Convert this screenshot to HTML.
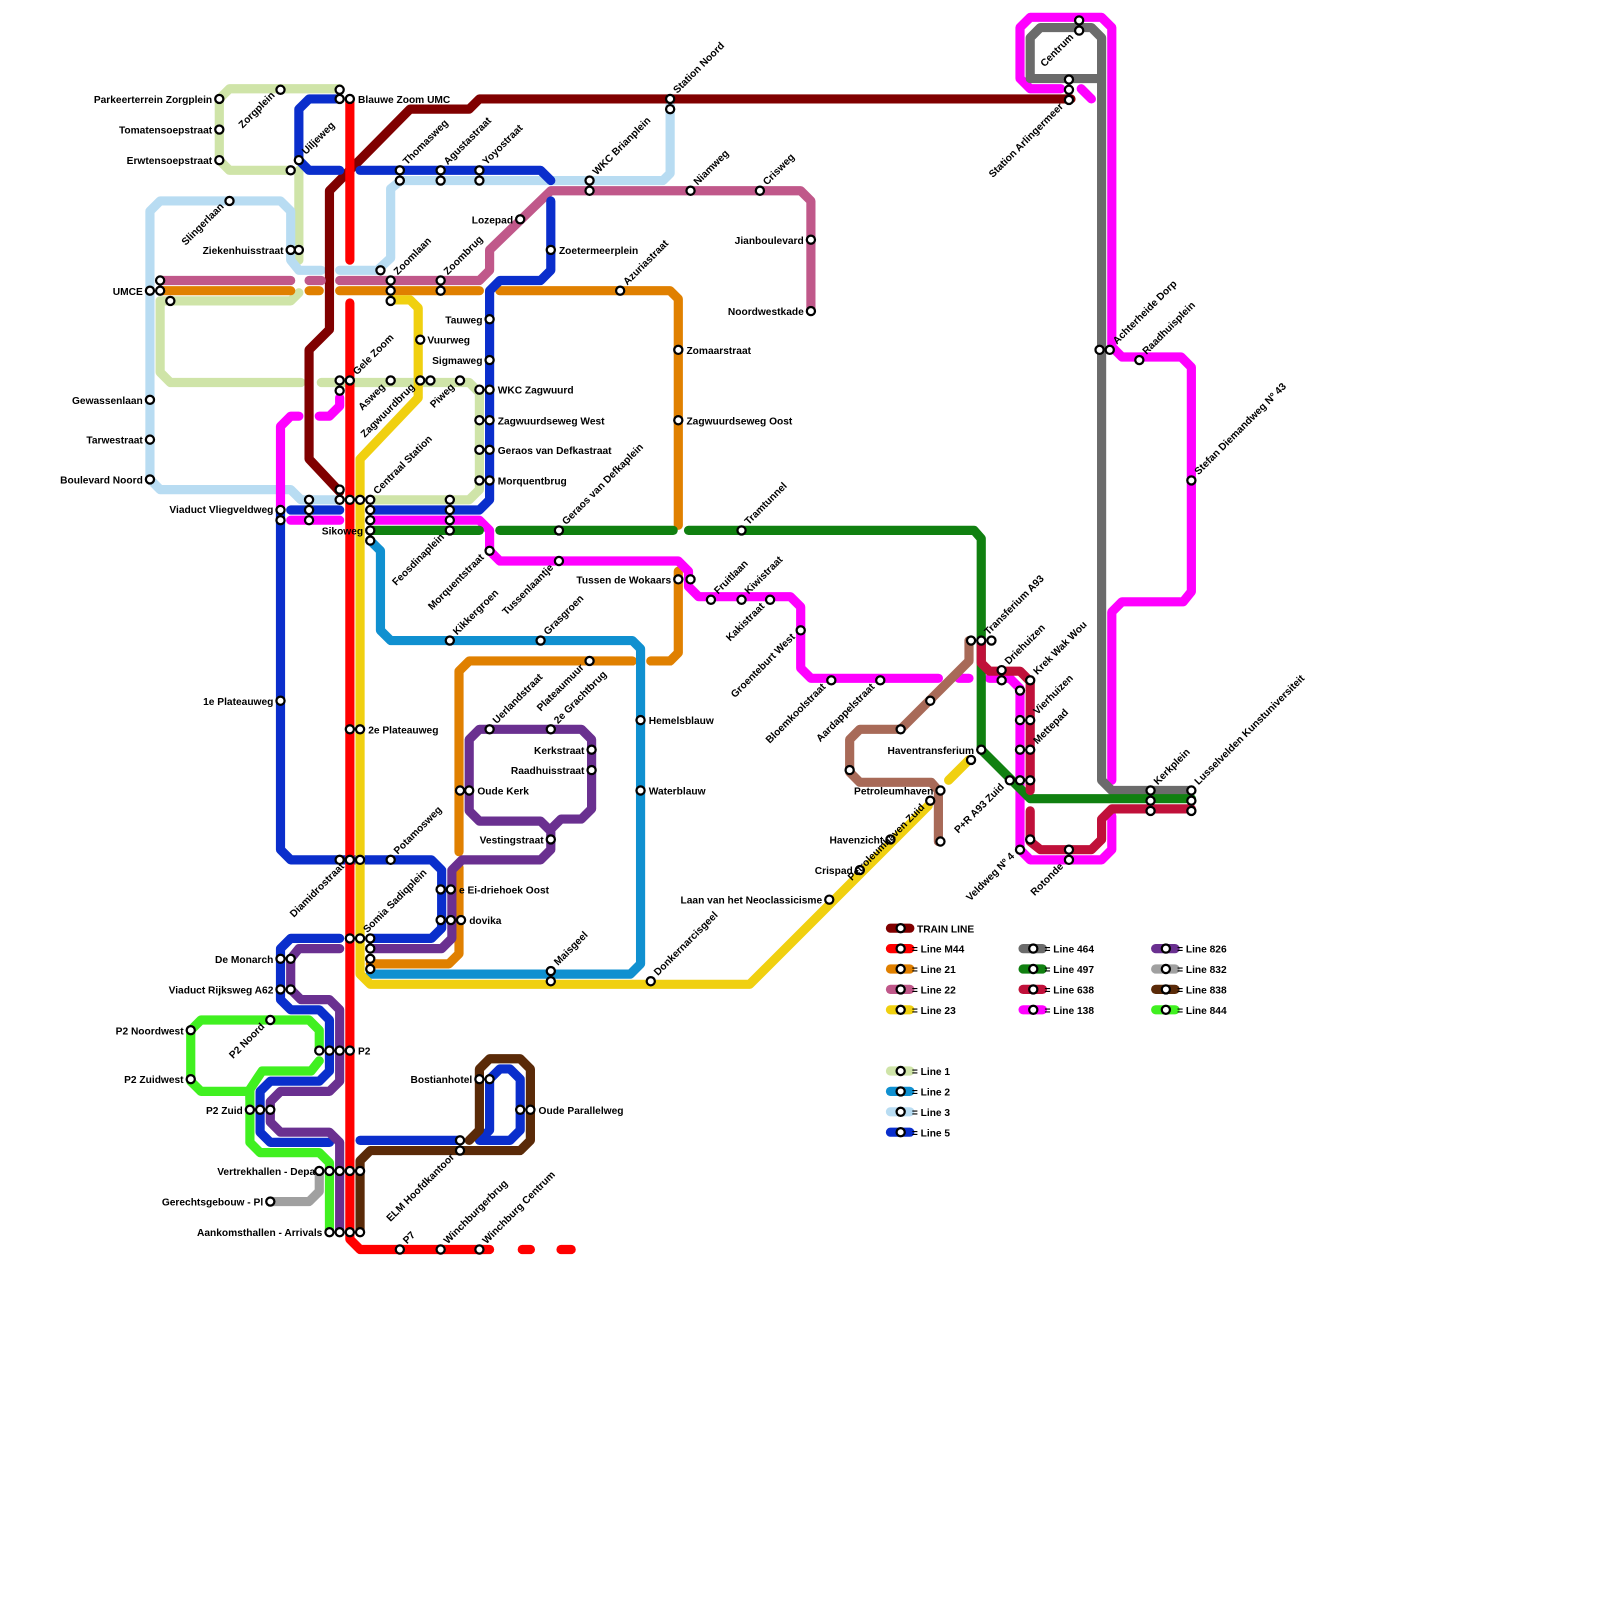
<!DOCTYPE html>
<html><head><meta charset="utf-8"><style>
html,body{margin:0;padding:0;background:#fff;overflow:hidden}
svg{display:block}
text{font-family:"Liberation Sans",sans-serif;font-weight:bold;font-size:10px;fill:#000}
.l{fill:none;stroke-width:9;stroke-linecap:round;stroke-linejoin:round}
circle{fill:#fff;stroke:#000;stroke-width:2.2}
.e{text-anchor:end}
</style></head><body>
<svg width="1600" height="1600" viewBox="0 0 1600 1600" xmlns="http://www.w3.org/2000/svg">
<g transform="scale(1.02)">
<!-- Line 1 light green -->
<g>
<polyline class="l" stroke="#cfe4a8" points="333,87 225,87 215,97 215,157 225,167 285,167"/>
<polyline class="l" stroke="#cfe4a8" points="293,167 293,255"/>
<polyline class="l" stroke="#cfe4a8" points="157,295 285,295 293,287"/>
<polyline class="l" stroke="#cfe4a8" points="157,295 157,365 167,375 295,375"/>
<polyline class="l" stroke="#cfe4a8" points="315,375 460,375 470,385 470,480 460,490 363,490"/>
</g>
<!-- Line 3 light blue -->
<g>
<polyline class="l" stroke="#b8dcf2" points="147,285 147,207 157,197 275,197 285,207 285,255 293,265 315,265"/>
<polyline class="l" stroke="#b8dcf2" points="333,265 370,265 383,253 383,185 393,177 650,177 657,170 657,97"/>
<polyline class="l" stroke="#b8dcf2" points="147,285 147,470 157,480 285,480 295,490 333,490"/>
</g>
<!-- Train line -->
<polyline class="l" stroke="#800000" points="1050,97 470,97 460,107 402,107 323,187 323,323 303,343 303,450 333,482"/>
<!-- Line 22 -->
<polyline class="l" stroke="#c0588a" points="157,275 285,275"/>
<polyline class="l" stroke="#c0588a" points="303,275 315,275"/>
<polyline class="l" stroke="#c0588a" points="333,275 470,275 480,265 480,245 540,187 785,187 795,197 795,305"/>
<!-- Line 21 -->
<polyline class="l" stroke="#e08000" points="157,285 285,285"/>
<polyline class="l" stroke="#e08000" points="303,285 313,285"/>
<polyline class="l" stroke="#e08000" points="333,285 470,285"/>
<polyline class="l" stroke="#e08000" points="490,285 657,285 665,293 665,515"/>
<polyline class="l" stroke="#e08000" points="665,560 665,640 657,648 638,648"/>
<polyline class="l" stroke="#e08000" points="620,648 460,648 450,658 450,835"/>
<polyline class="l" stroke="#e08000" points="450,850 450,935 440,945 363,945"/>
<!-- Line 2 -->
<polyline class="l" stroke="#1090d0" points="363,530 373,540 373,618 383,628 620,628 628,636 628,945 618,955 363,955"/>
<!-- Line 5 -->
<g>
<polyline class="l" stroke="#0a2ecc" points="333,97 303,97 293,107 293,157 303,167 333,167"/>
<polyline class="l" stroke="#0a2ecc" points="353,167 530,167 540,177"/>
<polyline class="l" stroke="#0a2ecc" points="540,197 540,265 530,275 490,275 480,285 480,490 470,500 363,500"/>
<polyline class="l" stroke="#0a2ecc" points="285,500 333,500"/>
<polyline class="l" stroke="#0a2ecc" points="275,500 275,833 285,843 423,843 433,853 433,910 423,920 363,920"/>
<polyline class="l" stroke="#0a2ecc" points="333,920 285,920 275,930 275,980 285,990 313,990 323,1000 323,1050 313,1060 265,1060 255,1070 255,1110 265,1120 323,1120"/>
<polyline class="l" stroke="#0a2ecc" points="353,1118 450,1118"/>
<polyline class="l" stroke="#0a2ecc" points="470,1118 480,1108 480,1058 490,1048 500,1048 510,1058 510,1108 500,1118 470,1118"/>
</g>
<!-- Line 138 magenta -->
<g>
<polyline class="l" stroke="#ff00ff" points="275,500 275,418 285,408 293,408"/>
<polyline class="l" stroke="#ff00ff" points="313,408 323,408 333,398 333,390"/>
<polyline class="l" stroke="#ff00ff" points="285,510 333,510"/>
<polyline class="l" stroke="#ff00ff" points="363,510 470,510 480,520 480,540 490,550 665,550 675,560 675,575 685,585 775,585 785,595 785,655 795,665 920,665"/>
<polyline class="l" stroke="#ff00ff" points="940,665 950,665"/>
<polyline class="l" stroke="#ff00ff" points="970,665 990,665 1000,675 1000,833 1010,843 1080,843 1090,833 1090,800"/>
<polyline class="l" stroke="#ff00ff" points="1090,765 1090,600 1100,590 1160,590 1168,580 1168,360 1158,350 1100,350 1090,340 1090,27 1080,17 1010,17 1000,27 1000,77 1010,87 1040,87"/>
<polyline class="l" stroke="#ff00ff" points="1060,87 1070,97"/>
</g>
<!-- Line 464 gray -->
<polyline class="l" stroke="#6b6b6b" points="1080,77 1010,77 1010,37 1020,27 1070,27 1080,37 1080,765 1090,775 1168,775"/>
<!-- Line 497 green -->
<polyline class="l" stroke="#108010" points="363,520 470,520"/>
<polyline class="l" stroke="#108010" points="490,520 660,520"/>
<polyline class="l" stroke="#108010" points="675,520 955,520 962,528 962,735 1010,783 1168,783"/>
<!-- Line 638 -->
<polyline class="l" stroke="#c0103a" points="962,628 962,650 970,658 1000,658 1010,668 1010,775"/>
<polyline class="l" stroke="#c0103a" points="1010,795 1010,825 1020,833 1070,833 1080,823 1080,803 1090,793 1168,793"/>
<!-- tan line -->
<polyline class="l" stroke="#a86a58" points="950,628 950,648 883,715 843,715 833,725 833,757 843,767 913,767 920,775 920,825"/>
<!-- Line 826 purple -->
<polyline class="l" stroke="#6a3090" points="333,930 293,930 285,940 285,970 295,980 323,980 333,990 333,1060 323,1070 275,1070 265,1080 265,1100 275,1110 323,1110 333,1120 333,1208"/>
<polyline class="l" stroke="#6a3090" points="363,930 433,930 443,920 443,853 453,843 530,843 540,833 540,813 550,803 570,803 580,793 580,725 570,715 470,715 460,725 460,795 470,805 530,805 540,815"/>
<!-- Line 844 -->
<polyline class="l" stroke="#40f020" points="313,1030 313,1010 303,1000 197,1000 187,1010 187,1060 197,1070 245,1070 245,1120 255,1130 313,1130 323,1140 323,1208"/>
<polyline class="l" stroke="#40f020" points="245,1078 245,1068 257,1050 305,1050 313,1040"/>
<!-- 832 / 838 -->
<polyline class="l" stroke="#a0a0a0" points="265,1178 303,1178 313,1168 313,1148"/>
<polyline class="l" stroke="#5a2a08" points="353,1208 353,1138 363,1128 510,1128 520,1118 520,1048 510,1038 480,1038 470,1048 470,1108 460,1118"/>
<!-- Line 23 yellow -->
<polyline class="l" stroke="#f0d010" points="383,294 402,294 410,302 410,390 353,450 353,955 363,965 735,965 910,790"/>
<polyline class="l" stroke="#f0d010" points="930,765 950,745"/>
<!-- M44 red -->
<polyline class="l" stroke="#ff0000" points="343,97 343,255"/>
<polyline class="l" stroke="#ff0000" points="343,297 343,1215 353,1225 480,1225"/>
<polyline class="l" stroke="#ff0000" points="512,1225 520,1225"/>
<polyline class="l" stroke="#ff0000" points="550,1225 560,1225"/>

<!-- Stations -->
<g>
<circle cx="215" cy="97" r="4"/><circle cx="215" cy="127" r="4"/><circle cx="215" cy="157" r="4"/>
<circle cx="275" cy="88" r="4"/><circle cx="333" cy="88" r="4"/><circle cx="333" cy="97" r="4"/><circle cx="343" cy="97" r="4"/>
<circle cx="293" cy="157" r="4"/><circle cx="285" cy="167" r="4"/><circle cx="225" cy="197" r="4"/>
<circle cx="285" cy="245" r="4"/><circle cx="293" cy="245" r="4"/>
<circle cx="147" cy="285" r="4"/><circle cx="157" cy="275" r="4"/><circle cx="157" cy="285" r="4"/><circle cx="167" cy="295" r="4"/>
<circle cx="147" cy="392" r="4"/><circle cx="147" cy="431" r="4"/><circle cx="147" cy="470" r="4"/>
<circle cx="392" cy="167" r="4"/><circle cx="392" cy="177" r="4"/><circle cx="432" cy="167" r="4"/><circle cx="432" cy="177" r="4"/><circle cx="470" cy="167" r="4"/><circle cx="470" cy="177" r="4"/>
<circle cx="578" cy="177" r="4"/><circle cx="578" cy="187" r="4"/><circle cx="657" cy="97" r="4"/><circle cx="657" cy="107" r="4"/>
<circle cx="677" cy="187" r="4"/><circle cx="745" cy="187" r="4"/><circle cx="795" cy="235" r="4"/><circle cx="795" cy="305" r="4"/>
<circle cx="510" cy="215" r="4"/><circle cx="540" cy="245" r="4"/>
<circle cx="373" cy="265" r="4"/><circle cx="383" cy="275" r="4"/><circle cx="383" cy="285" r="4"/><circle cx="383" cy="295" r="4"/>
<circle cx="432" cy="275" r="4"/><circle cx="432" cy="285" r="4"/><circle cx="608" cy="285" r="4"/>
<circle cx="412" cy="333" r="4"/><circle cx="480" cy="313" r="4"/><circle cx="480" cy="353" r="4"/>
<circle cx="333" cy="373" r="4"/><circle cx="333" cy="383" r="4"/><circle cx="343" cy="373" r="4"/><circle cx="383" cy="373" r="4"/>
<circle cx="412" cy="373" r="4"/><circle cx="422" cy="373" r="4"/><circle cx="451" cy="373" r="4"/>
<circle cx="470" cy="382" r="4"/><circle cx="480" cy="382" r="4"/><circle cx="470" cy="412" r="4"/><circle cx="480" cy="412" r="4"/>
<circle cx="470" cy="441" r="4"/><circle cx="480" cy="441" r="4"/><circle cx="470" cy="471" r="4"/><circle cx="480" cy="471" r="4"/>
<circle cx="665" cy="343" r="4"/><circle cx="665" cy="412" r="4"/>
<circle cx="333" cy="480" r="4"/><circle cx="333" cy="490" r="4"/><circle cx="343" cy="490" r="4"/><circle cx="353" cy="490" r="4"/><circle cx="363" cy="490" r="4"/>
<circle cx="363" cy="500" r="4"/><circle cx="363" cy="510" r="4"/><circle cx="363" cy="520" r="4"/><circle cx="363" cy="530" r="4"/>
<circle cx="303" cy="490" r="4"/><circle cx="303" cy="500" r="4"/><circle cx="303" cy="510" r="4"/>
<circle cx="275" cy="500" r="4"/><circle cx="275" cy="510" r="4"/>
<circle cx="441" cy="490" r="4"/><circle cx="441" cy="500" r="4"/><circle cx="441" cy="510" r="4"/><circle cx="441" cy="520" r="4"/>
<circle cx="480" cy="540" r="4"/><circle cx="548" cy="520" r="4"/><circle cx="548" cy="550" r="4"/>
<circle cx="727" cy="520" r="4"/><circle cx="665" cy="568" r="4"/><circle cx="677" cy="568" r="4"/>
<circle cx="697" cy="588" r="4"/><circle cx="727" cy="588" r="4"/><circle cx="755" cy="588" r="4"/><circle cx="785" cy="618" r="4"/>
<circle cx="815" cy="667" r="4"/><circle cx="863" cy="667" r="4"/><circle cx="912" cy="687" r="4"/><circle cx="883" cy="715" r="4"/>
<circle cx="441" cy="628" r="4"/><circle cx="530" cy="628" r="4"/><circle cx="578" cy="648" r="4"/>
<circle cx="275" cy="687" r="4"/><circle cx="343" cy="715" r="4"/><circle cx="353" cy="715" r="4"/>
<circle cx="480" cy="715" r="4"/><circle cx="540" cy="715" r="4"/><circle cx="580" cy="735" r="4"/><circle cx="580" cy="755" r="4"/>
<circle cx="628" cy="706" r="4"/><circle cx="628" cy="775" r="4"/><circle cx="451" cy="775" r="4"/><circle cx="460" cy="775" r="4"/>
<circle cx="540" cy="823" r="4"/>
<circle cx="333" cy="843" r="4"/><circle cx="343" cy="843" r="4"/><circle cx="353" cy="843" r="4"/><circle cx="383" cy="843" r="4"/>
<circle cx="432" cy="872" r="4"/><circle cx="442" cy="872" r="4"/><circle cx="432" cy="902" r="4"/><circle cx="442" cy="902" r="4"/><circle cx="452" cy="902" r="4"/>
<circle cx="343" cy="920" r="4"/><circle cx="353" cy="920" r="4"/><circle cx="363" cy="920" r="4"/><circle cx="363" cy="930" r="4"/><circle cx="363" cy="940" r="4"/><circle cx="363" cy="950" r="4"/>
<circle cx="540" cy="952" r="4"/><circle cx="540" cy="962" r="4"/><circle cx="638" cy="962" r="4"/>
<circle cx="275" cy="940" r="4"/><circle cx="285" cy="940" r="4"/><circle cx="275" cy="970" r="4"/><circle cx="285" cy="970" r="4"/>
<circle cx="187" cy="1010" r="4"/><circle cx="187" cy="1058" r="4"/><circle cx="265" cy="1000" r="4"/>
<circle cx="313" cy="1030" r="4"/><circle cx="323" cy="1030" r="4"/><circle cx="333" cy="1030" r="4"/><circle cx="343" cy="1030" r="4"/>
<circle cx="245" cy="1088" r="4"/><circle cx="255" cy="1088" r="4"/><circle cx="265" cy="1088" r="4"/>
<circle cx="470" cy="1058" r="4"/><circle cx="480" cy="1058" r="4"/><circle cx="510" cy="1088" r="4"/><circle cx="520" cy="1088" r="4"/>
<circle cx="451" cy="1118" r="4"/><circle cx="451" cy="1128" r="4"/>
<circle cx="313" cy="1148" r="4"/><circle cx="323" cy="1148" r="4"/><circle cx="333" cy="1148" r="4"/><circle cx="343" cy="1148" r="4"/><circle cx="353" cy="1148" r="4"/>
<circle cx="265" cy="1178" r="4"/>
<circle cx="323" cy="1208" r="4"/><circle cx="333" cy="1208" r="4"/><circle cx="343" cy="1208" r="4"/><circle cx="353" cy="1208" r="4"/>
<circle cx="392" cy="1225" r="4"/><circle cx="432" cy="1225" r="4"/><circle cx="470" cy="1225" r="4"/>
<circle cx="1058" cy="20" r="4"/><circle cx="1058" cy="30" r="4"/><circle cx="1048" cy="78" r="4"/><circle cx="1048" cy="88" r="4"/><circle cx="1048" cy="98" r="4"/>
<circle cx="1078" cy="343" r="4"/><circle cx="1088" cy="343" r="4"/><circle cx="1117" cy="353" r="4"/><circle cx="1168" cy="471" r="4"/>
<circle cx="952" cy="628" r="4"/><circle cx="962" cy="628" r="4"/><circle cx="972" cy="628" r="4"/>
<circle cx="982" cy="657" r="4"/><circle cx="982" cy="667" r="4"/><circle cx="1010" cy="667" r="4"/><circle cx="1000" cy="677" r="4"/>
<circle cx="1000" cy="706" r="4"/><circle cx="1010" cy="706" r="4"/><circle cx="1000" cy="735" r="4"/><circle cx="1010" cy="735" r="4"/>
<circle cx="962" cy="735" r="4"/><circle cx="952" cy="745" r="4"/>
<circle cx="990" cy="765" r="4"/><circle cx="1000" cy="765" r="4"/><circle cx="1010" cy="765" r="4"/>
<circle cx="833" cy="755" r="4"/><circle cx="922" cy="775" r="4"/><circle cx="912" cy="785" r="4"/><circle cx="922" cy="825" r="4"/>
<circle cx="873" cy="823" r="4"/><circle cx="843" cy="853" r="4"/><circle cx="813" cy="882" r="4"/>
<circle cx="1000" cy="833" r="4"/><circle cx="1010" cy="823" r="4"/><circle cx="1048" cy="833" r="4"/><circle cx="1048" cy="843" r="4"/>
<circle cx="1128" cy="775" r="4"/><circle cx="1128" cy="785" r="4"/><circle cx="1128" cy="795" r="4"/>
<circle cx="1168" cy="775" r="4"/><circle cx="1168" cy="785" r="4"/><circle cx="1168" cy="795" r="4"/>
</g>

<!-- Horizontal labels -->
<g>
<text class="e" x="208" y="101">Parkeerterrein Zorgplein</text>
<text class="e" x="208" y="131">Tomatensoepstraat</text>
<text class="e" x="208" y="161">Erwtensoepstraat</text>
<text class="e" x="278" y="249">Ziekenhuisstraat</text>
<text class="e" x="140" y="289">UMCE</text>
<text class="e" x="140" y="396">Gewassenlaan</text>
<text class="e" x="140" y="435">Tarwestraat</text>
<text class="e" x="140" y="474">Boulevard Noord</text>
<text class="e" x="268" y="503">Viaduct Vliegveldweg</text>
<text class="e" x="356" y="524">Sikoweg</text>
<text class="e" x="268" y="691">1e Plateauweg</text>
<text class="e" x="268" y="944">De Monarch</text>
<text class="e" x="268" y="974">Viaduct Rijksweg A62</text>
<text class="e" x="180" y="1014">P2 Noordwest</text>
<text class="e" x="180" y="1062">P2 Zuidwest</text>
<text class="e" x="238" y="1092">P2 Zuid</text>
<text class="e" x="309" y="1152">Vertrekhallen - Depa</text>
<text class="e" x="258" y="1182">Gerechtsgebouw - Pl</text>
<text class="e" x="316" y="1212">Aankomsthallen - Arrivals</text>
<text class="e" x="503" y="219">Lozepad</text>
<text class="e" x="473" y="317">Tauweg</text>
<text class="e" x="473" y="357">Sigmaweg</text>
<text class="e" x="658" y="572">Tussen de Wokaars</text>
<text class="e" x="788" y="239">Jianboulevard</text>
<text class="e" x="788" y="309">Noordwestkade</text>
<text class="e" x="955" y="739">Haventransferium</text>
<text class="e" x="915" y="779">Petroleumhaven</text>
<text class="e" x="866" y="827">Havenzicht</text>
<text class="e" x="836" y="857">Crispad</text>
<text class="e" x="806" y="886">Laan van het Neoclassicisme</text>
<text class="e" x="573" y="739">Kerkstraat</text>
<text class="e" x="573" y="759">Raadhuisstraat</text>
<text class="e" x="533" y="827">Vestingstraat</text>
<text class="e" x="463" y="1062">Bostianhotel</text>
<text x="351" y="101">Blauwe Zoom UMC</text>
<text x="419" y="337">Vuurweg</text>
<text x="488" y="386">WKC Zagwuurd</text>
<text x="488" y="416">Zagwuurdseweg West</text>
<text x="488" y="445">Geraos van Defkastraat</text>
<text x="488" y="475">Morquentbrug</text>
<text x="548" y="249">Zoetermeerplein</text>
<text x="673" y="347">Zomaarstraat</text>
<text x="673" y="416">Zagwuurdseweg Oost</text>
<text x="361" y="719">2e Plateauweg</text>
<text x="468" y="779">Oude Kerk</text>
<text x="450" y="876">e Ei-driehoek Oost</text>
<text x="460" y="906">dovika</text>
<text x="351" y="1034">P2</text>
<text x="528" y="1092">Oude Parallelweg</text>
<text x="636" y="710">Hemelsblauw</text>
<text x="636" y="779">Waterblauw</text>
</g>
<!-- Rotated right labels (start) -->
<g>
<text transform="translate(300,152) rotate(-45)">Uiljeweg</text>
<text transform="translate(399,162) rotate(-45)">Thomasweg</text>
<text transform="translate(439,162) rotate(-45)">Agustastraat</text>
<text transform="translate(477,162) rotate(-45)">Yoyostraat</text>
<text transform="translate(585,172) rotate(-45)">WKC Brianplein</text>
<text transform="translate(664,92) rotate(-45)">Station Noord</text>
<text transform="translate(684,182) rotate(-45)">Niamweg</text>
<text transform="translate(752,182) rotate(-45)">Crisweg</text>
<text transform="translate(390,270) rotate(-45)">Zoomlaan</text>
<text transform="translate(439,270) rotate(-45)">Zoombrug</text>
<text transform="translate(615,280) rotate(-45)">Azuriastraat</text>
<text transform="translate(350,368) rotate(-45)">Gele Zoom</text>
<text transform="translate(370,485) rotate(-45)">Centraal Station</text>
<text transform="translate(555,515) rotate(-45)">Geraos van Defkaplein</text>
<text transform="translate(704,583) rotate(-45)">Fruitlaan</text>
<text transform="translate(734,583) rotate(-45)">Kiwistraat</text>
<text transform="translate(734,515) rotate(-45)">Tramtunnel</text>
<text transform="translate(448,623) rotate(-45)">Kikkergroen</text>
<text transform="translate(537,623) rotate(-45)">Grasgroen</text>
<text transform="translate(487,710) rotate(-45)">Uerlandstraat</text>
<text transform="translate(547,710) rotate(-45)">2e Grachtbrug</text>
<text transform="translate(390,838) rotate(-45)">Potamosweg</text>
<text transform="translate(360,915) rotate(-45)">Somia Sadiqplein</text>
<text transform="translate(547,947) rotate(-45)">Maisgeel</text>
<text transform="translate(645,957) rotate(-45)">Donkernarcisgeel</text>
<text transform="translate(399,1220) rotate(-45)">P7</text>
<text transform="translate(439,1220) rotate(-45)">Winchburgerbrug</text>
<text transform="translate(477,1220) rotate(-45)">Winchburg Centrum</text>
<text transform="translate(1095,338) rotate(-45)">Achterheide Dorp</text>
<text transform="translate(1124,348) rotate(-45)">Raadhuisplein</text>
<text transform="translate(1175,466) rotate(-45)">Stefan Diemandweg Nº 43</text>
<text transform="translate(969,623) rotate(-45)">Transferium A93</text>
<text transform="translate(989,652) rotate(-45)">Driehuizen</text>
<text transform="translate(1017,662) rotate(-45)">Krek Wak Wou</text>
<text transform="translate(1017,701) rotate(-45)">Vierhuizen</text>
<text transform="translate(1017,730) rotate(-45)">Mettepad</text>
<text transform="translate(1135,770) rotate(-45)">Kerkplein</text>
<text transform="translate(1175,770) rotate(-45)">Lusselvelden Kunstuniversiteit</text>
</g>
<!-- Rotated left labels (end) -->
<g>
<text class="e" transform="translate(270,94) rotate(-45)">Zorgplein</text>
<text class="e" transform="translate(220,203) rotate(-45)">Slingerlaan</text>
<text class="e" transform="translate(378,380) rotate(-45)">Asweg</text>
<text class="e" transform="translate(407,380) rotate(-45)">Zagwuurdbrug</text>
<text class="e" transform="translate(446,380) rotate(-45)">Piweg</text>
<text class="e" transform="translate(436,527) rotate(-45)">Feosdinaplein</text>
<text class="e" transform="translate(475,547) rotate(-45)">Morquentstraat</text>
<text class="e" transform="translate(543,557) rotate(-45)">Tussenlaantje</text>
<text class="e" transform="translate(750,595) rotate(-45)">Kakistraat</text>
<text class="e" transform="translate(780,625) rotate(-45)">Groenteburt West</text>
<text class="e" transform="translate(810,674) rotate(-45)">Bloemkoolstraat</text>
<text class="e" transform="translate(858,674) rotate(-45)">Aardappelstraat</text>
<text class="e" transform="translate(573,655) rotate(-45)">Plateaumuur</text>
<text class="e" transform="translate(338,850) rotate(-45)">Diamidrostraat</text>
<text class="e" transform="translate(446,1135) rotate(-45)">ELM Hoofdkantoor</text>
<text class="e" transform="translate(260,1007) rotate(-45)">P2 Noord</text>
<text class="e" transform="translate(1053,37) rotate(-45)">Centrum</text>
<text class="e" transform="translate(1043,105) rotate(-45)">Station Arlingermeer</text>
<text class="e" transform="translate(985,772) rotate(-45)">P+R A93 Zuid</text>
<text class="e" transform="translate(995,840) rotate(-45)">Veldweg Nº 4</text>
<text class="e" transform="translate(1043,850) rotate(-45)">Rotonde</text>
<text class="e" transform="translate(907,792) rotate(-45)">Petroleumhaven Zuid</text>
</g>

<!-- Legend -->
<g>
<g><line x1="873" y1="910" x2="892" y2="910" stroke="#800000" stroke-width="9" stroke-linecap="round"/><circle cx="883" cy="910" r="4"/><text x="899" y="914">TRAIN LINE</text></g>
<g><line x1="873" y1="930" x2="892" y2="930" stroke="#ff0000" stroke-width="9" stroke-linecap="round"/><circle cx="883" cy="930" r="4"/><text x="894" y="934">= Line M44</text></g>
<g><line x1="873" y1="950" x2="892" y2="950" stroke="#e08000" stroke-width="9" stroke-linecap="round"/><circle cx="883" cy="950" r="4"/><text x="894" y="954">= Line 21</text></g>
<g><line x1="873" y1="970" x2="892" y2="970" stroke="#c0588a" stroke-width="9" stroke-linecap="round"/><circle cx="883" cy="970" r="4"/><text x="894" y="974">= Line 22</text></g>
<g><line x1="873" y1="990" x2="892" y2="990" stroke="#f0d010" stroke-width="9" stroke-linecap="round"/><circle cx="883" cy="990" r="4"/><text x="894" y="994">= Line 23</text></g>
<g><line x1="1003" y1="930" x2="1022" y2="930" stroke="#6b6b6b" stroke-width="9" stroke-linecap="round"/><circle cx="1013" cy="930" r="4"/><text x="1024" y="934">= Line 464</text></g>
<g><line x1="1003" y1="950" x2="1022" y2="950" stroke="#108010" stroke-width="9" stroke-linecap="round"/><circle cx="1013" cy="950" r="4"/><text x="1024" y="954">= Line 497</text></g>
<g><line x1="1003" y1="970" x2="1022" y2="970" stroke="#c0103a" stroke-width="9" stroke-linecap="round"/><circle cx="1013" cy="970" r="4"/><text x="1024" y="974">= Line 638</text></g>
<g><line x1="1003" y1="990" x2="1022" y2="990" stroke="#ff00ff" stroke-width="9" stroke-linecap="round"/><circle cx="1013" cy="990" r="4"/><text x="1024" y="994">= Line 138</text></g>
<g><line x1="1133" y1="930" x2="1152" y2="930" stroke="#6a3090" stroke-width="9" stroke-linecap="round"/><circle cx="1143" cy="930" r="4"/><text x="1154" y="934">= Line 826</text></g>
<g><line x1="1133" y1="950" x2="1152" y2="950" stroke="#a0a0a0" stroke-width="9" stroke-linecap="round"/><circle cx="1143" cy="950" r="4"/><text x="1154" y="954">= Line 832</text></g>
<g><line x1="1133" y1="970" x2="1152" y2="970" stroke="#5a2a08" stroke-width="9" stroke-linecap="round"/><circle cx="1143" cy="970" r="4"/><text x="1154" y="974">= Line 838</text></g>
<g><line x1="1133" y1="990" x2="1152" y2="990" stroke="#40f020" stroke-width="9" stroke-linecap="round"/><circle cx="1143" cy="990" r="4"/><text x="1154" y="994">= Line 844</text></g>
<g><line x1="873" y1="1050" x2="892" y2="1050" stroke="#cfe4a8" stroke-width="9" stroke-linecap="round"/><circle cx="883" cy="1050" r="4"/><text x="894" y="1054">= Line 1</text></g>
<g><line x1="873" y1="1070" x2="892" y2="1070" stroke="#1090d0" stroke-width="9" stroke-linecap="round"/><circle cx="883" cy="1070" r="4"/><text x="894" y="1074">= Line 2</text></g>
<g><line x1="873" y1="1090" x2="892" y2="1090" stroke="#b8dcf2" stroke-width="9" stroke-linecap="round"/><circle cx="883" cy="1090" r="4"/><text x="894" y="1094">= Line 3</text></g>
<g><line x1="873" y1="1110" x2="892" y2="1110" stroke="#0a2ecc" stroke-width="9" stroke-linecap="round"/><circle cx="883" cy="1110" r="4"/><text x="894" y="1114">= Line 5</text></g>
</g>
</g>
</svg>
</body></html>
